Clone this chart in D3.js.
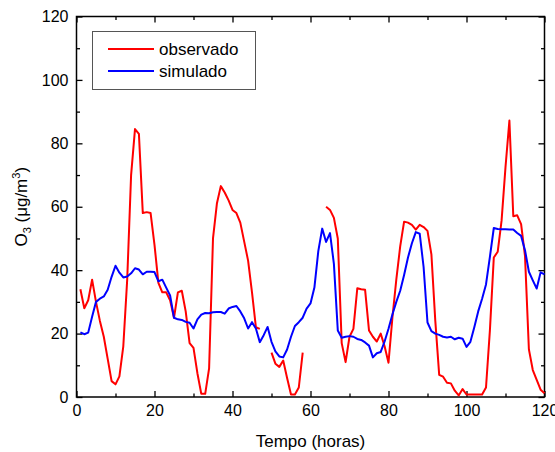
<!DOCTYPE html>
<meta charset="utf-8">
<style>
body { margin: 0; background: #fff; }
svg { font-family: Arial, "Liberation Sans", sans-serif; }
.line { fill: none; stroke-width: 2; stroke-linejoin: round; }
.axis path, .axis line { stroke: #000; stroke-width: 1.3; }
.axis text { font-size: 16px; fill: #000; }
</style>
<svg width="555" height="452"></svg>
<script src="https://d3js.org/d3.v7.min.js"></script>
<script>

// hours 1..120
var hours = d3.range(1, 121);

// observado (null = sin dato)
var observado = [34, 28, 30.5, 37, 30, 24, 19, 12, 5, 4,
  6.5, 16, 37, 70, 84.5, 83, 58, 58.3, 58, 48,
  36, 33, 33, 30.5, 25, 33, 33.5, 27, 17, 15.5,
  7.5, 1, 1, 9, 50, 61, 66.5, 64.5, 62, 59,
  58, 55, 49, 43, 33, 22, 21.5, null, null, 14,
  10.5, 9.5, 11.5, 6, 0.8, 0.8, 3, 14, null, null,
  null, null, null, 60, 59, 56.5, 50, 17, 11, 19,
  21.5, 34.3, 34, 33.8, 21, 19, 17.5, 20, 16, 10.8,
  25, 37, 47.5, 55.3, 55, 54.3, 52.8, 54.3, 53.6, 52.4,
  45, 24, 7, 6.4, 4.5, 4.3, 2, 0.5, 2.5, 0.8,
  0.8, 0.8, 0.8, 0.8, 3, 21, 44, 45.8, 55.7, 72.5,
  87.2, 57, 57.3, 54.5, 44.5, 15, 8.5, 5.4, 2.3, 1.2];

// simulado
var simulado = [20.4, 19.8, 20.3, 25.3, 30, 31, 31.7, 33.8, 37.9, 41.4,
  39.2, 37.7, 38, 39, 40.6, 40.2, 38.7, 39.5, 39.5, 39.4,
  36.5, 37, 34.5, 32, 25, 24.5, 24.3, 23.7, 23.4, 21.6,
  24.5, 26, 26.5, 26.4, 26.7, 26.8, 26.8, 26.3, 27.9, 28.4,
  28.7, 27, 24.8, 21.6, 23.6, 21.6, 17.3, 19.5, 22.1, 17.4,
  14.4, 12.8, 12.5, 15, 19, 22.4, 23.6, 25, 27.9, 29.5,
  34.5, 46, 53.1, 48.9, 51.7, 42, 21, 18.7, 19, 19.2,
  19, 18.3, 18, 17.2, 16.2, 12.5, 13.8, 14.2, 17.5, 21.5,
  26, 30, 33.5, 38.5, 44, 48.5, 52, 51.5, 41, 23.5,
  20.8, 20, 19.6, 19, 18.8, 19, 18.2, 18.7, 18.4, 15.8,
  17.4, 22, 27, 31, 35.5, 44.2, 53.3, 53, 52.9, 52.9,
  52.8, 52.8, 51.7, 50.8, 46.3, 39.5, 36.8, 34.2, 39.3, 38.7];

var seriesNames = ["observado", "simulado"];
var seriesColors = ["#ff0000", "#0000ff"];

var xMajor = [0, 20, 40, 60, 80, 100, 120];
var xMinor = [10, 30, 50, 70, 90, 110];
var yMajor = [0, 20, 40, 60, 80, 100, 120];
var yMinor = [10, 30, 50, 70, 90, 110];

var svg = d3.select("svg");
var pLeft = 76.5, pRight = 544.5, pTop = 16.5, pBottom = 397;

var x = d3.scaleLinear().domain([0, 120]).range([pLeft, pRight]);
var y = d3.scaleLinear().domain([0, 120]).range([pBottom, pTop]);

function drawAxis(axisFn, scale, ticks, size, labels, transform) {
  var ax = axisFn(scale).tickValues(ticks).tickSizeInner(-size).tickSizeOuter(0).tickPadding(8);
  if (!labels) ax.tickFormat("");
  var g = svg.append("g").attr("class", "axis").attr("transform", transform).call(ax);
  g.select(".domain").remove();
  g.attr("font-family", null).attr("font-size", null);
  return g;
}

// major + minor ticks, all four sides, pointing in
drawAxis(d3.axisBottom, x, xMajor, 6, true, "translate(0," + pBottom + ")");
drawAxis(d3.axisBottom, x, xMinor, 3.5, false, "translate(0," + pBottom + ")");
drawAxis(d3.axisTop, x, xMajor, 6, false, "translate(0," + pTop + ")");
drawAxis(d3.axisTop, x, xMinor, 3.5, false, "translate(0," + pTop + ")");
drawAxis(d3.axisLeft, y, yMajor, 6, true, "translate(" + pLeft + ",0)");
drawAxis(d3.axisLeft, y, yMinor, 3.5, false, "translate(" + pLeft + ",0)");
drawAxis(d3.axisRight, y, yMajor, 6, false, "translate(" + pRight + ",0)");
drawAxis(d3.axisRight, y, yMinor, 3.5, false, "translate(" + pRight + ",0)");

// frame
svg.append("rect")
  .attr("x", pLeft).attr("y", pTop)
  .attr("width", pRight - pLeft).attr("height", pBottom - pTop)
  .attr("fill", "none").attr("stroke", "#000").attr("stroke-width", 1.5);

var line = d3.line()
  .defined(function(d) { return d[1] != null; })
  .x(function(d) { return x(d[0]); })
  .y(function(d) { return y(d[1]); });

[observado, simulado].forEach(function(vals, i) {
  svg.append("path")
    .attr("class", "line")
    .attr("stroke", seriesColors[i])
    .attr("d", line(hours.map(function(h, j) { return [h, vals[j]]; })));
});

// legend
var legend = svg.append("g");
legend.append("rect")
  .attr("x", 92.5).attr("y", 31.5).attr("width", 163).attr("height", 58)
  .attr("fill", "#fff").attr("stroke", "#555").attr("stroke-width", 1);
seriesNames.forEach(function(name, i) {
  var yy = 49 + i * 22;
  legend.append("line")
    .attr("x1", 108).attr("x2", 154).attr("y1", yy).attr("y2", yy)
    .attr("stroke", seriesColors[i]).attr("stroke-width", 2);
  legend.append("text")
    .attr("x", 159).attr("y", yy + 6)
    .attr("font-size", "17px")
    .text(name);
});

// axis titles
svg.append("text")
  .attr("x", (pLeft + pRight) / 2).attr("y", 447)
  .attr("text-anchor", "middle").attr("font-size", "17px")
  .text("Tempo (horas)");

var yt = svg.append("text")
  .attr("transform", "translate(27," + ((pTop + pBottom) / 2) + ") rotate(-90)")
  .attr("text-anchor", "middle").attr("font-size", "17px");
yt.append("tspan").text("O");
yt.append("tspan").attr("font-size", "11px").attr("dy", 4).text("3");
yt.append("tspan").attr("dy", -4).text(" (\u03bcg/m");
yt.append("tspan").attr("font-size", "11px").attr("dy", -7).text("3");
yt.append("tspan").attr("dy", 7).text(")");

</script>
